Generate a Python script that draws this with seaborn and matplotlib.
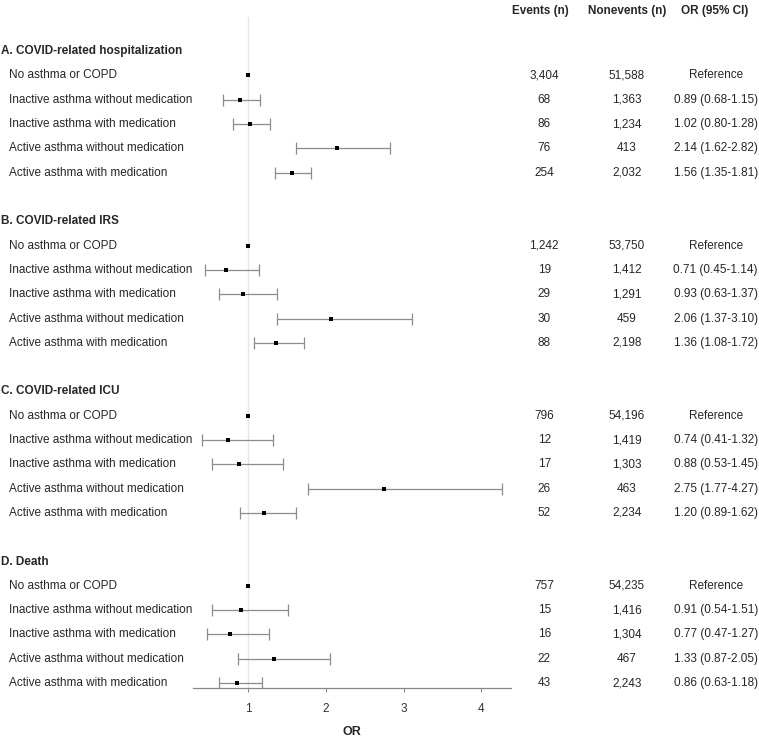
import matplotlib.pyplot as plt
import matplotlib.transforms as mtransforms
import numpy as np
import pandas as pd
import seaborn as sns


OUTCOMES = [
    "A. COVID-related hospitalization",
    "B. COVID-related IRS",
    "C. COVID-related ICU",
    "D. Death",
]
GROUPS = [
    "No asthma or COPD",
    "Inactive asthma without medication",
    "Inactive asthma with medication",
    "Active asthma without medication",
    "Active asthma with medication",
]

EVENTS = [
    ["3,404", "68", "86", "76", "254"],
    ["1,242", "19", "29", "30", "88"],
    ["796", "12", "17", "26", "52"],
    ["757", "15", "16", "22", "43"],
]
NONEVENTS = [
    ["51,588", "1,363", "1,234", "413", "2,032"],
    ["53,750", "1,412", "1,291", "459", "2,198"],
    ["54,196", "1,419", "1,303", "463", "2,234"],
    ["54,235", "1,416", "1,304", "467", "2,243"],
]
OR_VALUES = [
    [1.00, 0.89, 1.02, 2.14, 1.56],
    [1.00, 0.71, 0.93, 2.06, 1.36],
    [1.00, 0.74, 0.88, 2.75, 1.20],
    [1.00, 0.91, 0.77, 1.33, 0.86],
]
CI_LOW = [
    [np.nan, 0.68, 0.80, 1.62, 1.35],
    [np.nan, 0.45, 0.63, 1.37, 1.08],
    [np.nan, 0.41, 0.53, 1.77, 0.89],
    [np.nan, 0.54, 0.47, 0.87, 0.63],
]
CI_HIGH = [
    [np.nan, 1.15, 1.28, 2.82, 1.81],
    [np.nan, 1.14, 1.37, 3.10, 1.72],
    [np.nan, 1.32, 1.45, 4.27, 1.62],
    [np.nan, 1.51, 1.27, 2.05, 1.18],
]


def build_table() -> pd.DataFrame:
    rows = []
    for i, outcome in enumerate(OUTCOMES):
        for j, group in enumerate(GROUPS):
            est = OR_VALUES[i][j]
            lo, hi = CI_LOW[i][j], CI_HIGH[i][j]
            if np.isnan(lo):
                label = "Reference"
            else:
                label = f"{est:.2f} ({lo:.2f}-{hi:.2f})"
            rows.append({
                "outcome": outcome,
                "group": group,
                "slot": i * 7 + j + 1,
                "or": est,
                "lo": lo,
                "hi": hi,
                "events": EVENTS[i][j],
                "nonevents": NONEVENTS[i][j],
                "or_text": label,
            })
    return pd.DataFrame(rows)


def main() -> None:
    data = build_table()
    sns.set_theme(style="white")
    plt.rcParams["font.family"] = ["Liberation Sans", "DejaVu Sans"]

    fig = plt.figure(figsize=(7.59, 7.38), dpi=100)
    ax = fig.add_axes([0.2543, 0.0678, 0.419, 0.909])

    ax.axvline(1, color="#e6e6e6", lw=1, zorder=0)

    ci = data.dropna(subset=["lo"])
    ax.errorbar(
        ci["or"], ci["slot"],
        xerr=[ci["or"] - ci["lo"], ci["hi"] - ci["or"]],
        fmt="none", ecolor="#8c8c8c", elinewidth=0.9, capsize=4, capthick=0.9, zorder=1,
    )
    sns.scatterplot(data=data, x="or", y="slot", ax=ax, marker="s", s=9,
                    color="black", edgecolor="black", linewidth=0, zorder=2, legend=False)

    ax.set_xlim(0.29, 4.38)
    ax.set_ylim(26.2, -1.4)
    ax.set_xticks([1, 2, 3, 4])
    ax.set_yticks([])
    ax.set_ylabel("")
    ax.set_xlabel("OR", fontweight="bold", fontsize=9, labelpad=8)
    ax.tick_params(axis="x", labelsize=8.5, bottom=True, length=3, width=0.8,
                   direction="out", color="#888888", labelcolor="#333333", pad=8)
    for side in ["top", "left", "right"]:
        ax.spines[side].set_visible(False)
    ax.spines["bottom"].set_color("#888888")
    ax.spines["bottom"].set_linewidth(0.9)

    trans = mtransforms.blended_transform_factory(fig.transFigure, ax.transData)
    fs = 8.5
    for i, outcome in enumerate(OUTCOMES):
        ax.text(0.001, i * 7, outcome, transform=trans, fontsize=fs, fontweight="bold",
                va="center", ha="left", clip_on=False)
    for _, row in data.iterrows():
        ax.text(0.012, row["slot"], row["group"], transform=trans, fontsize=fs,
                va="center", ha="left", clip_on=False)
        ax.text(0.717, row["slot"], row["events"], transform=trans, fontsize=fs,
                va="center", ha="center", clip_on=False)
        ax.text(0.826, row["slot"], row["nonevents"], transform=trans, fontsize=fs,
                va="center", ha="center", clip_on=False)
        ax.text(0.943, row["slot"], row["or_text"], transform=trans, fontsize=fs,
                va="center", ha="center", clip_on=False)

    for x, title in [(0.712, "Events (n)"), (0.826, "Nonevents (n)"), (0.941, "OR (95% CI)")]:
        ax.text(x, -1.65, title, transform=trans, fontsize=fs, fontweight="bold",
                va="center", ha="center", clip_on=False)

    fig.savefig("out.png", dpi=100)
    plt.close(fig)


if __name__ == "__main__":
    main()
